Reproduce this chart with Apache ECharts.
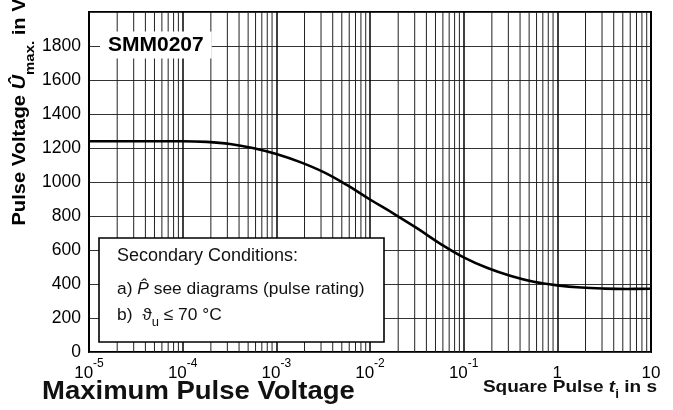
<!DOCTYPE html>
<html>
<head>
<meta charset="utf-8">
<script src="https://cdn.jsdelivr.net/npm/echarts@6/dist/echarts.min.js"></script>
<style>
  html, body { margin: 0; padding: 0; background: #fff; }
  #chart { width: 673px; height: 410px; }
</style>
</head>
<body>
<div id="chart"></div>
<script>
// pulse duration (s) and max pulse voltage (V) (about 4 readings per decade)
const pulseTimes = [
  1e-5, 1.8e-5, 3.2e-5, 5.6e-5,
  1e-4, 1.8e-4, 3.2e-4, 5.6e-4,
  1e-3, 1.8e-3, 3.2e-3, 5.6e-3,
  1e-2, 1.8e-2, 3.2e-2, 5.6e-2,
  1e-1, 1.8e-1, 3.2e-1, 5.6e-1,
  1, 1.8, 3.2, 5.6, 10,
];
const pulseVoltage = [
  1240, 1240, 1240, 1240,
  1240, 1236, 1224, 1200,
  1165, 1117, 1058, 984,
  897, 813, 727, 638,
  557, 494, 447, 413,
  392, 379, 373, 371, 372,
];
const decades = [1e-5, 1e-4, 1e-3, 1e-2, 1e-1, 1];
const minorSteps = [2, 3, 4, 5, 6, 7, 8, 9];

const FONT = "'Liberation Sans', Arial, Helvetica, sans-serif";

// minor log grid lines 2..9 in each decade
var minorLines = [];
decades.forEach(function (d) {
  minorSteps.forEach(function (k) {
    minorLines.push([k * d, 0]);
  });
});

var chart = echarts.init(document.getElementById("chart"));
var option = {
  animation: false,
  grid: {
    left: 89,
    right: 22,
    top: 12,
    bottom: 58,
    show: true,
    borderColor: "#000",
    borderWidth: 2,
    backgroundColor: "#fff",
  },
  xAxis: {
    type: "log",
    logBase: 10,
    min: 1e-5,
    max: 10,
    axisLine: { show: false },
    axisTick: { show: false },
    splitLine: { show: true, lineStyle: { color: "#000", width: 1.5 } },
    axisLabel: {
      showMinLabel: true,
      showMaxLabel: true,
      hideOverlap: false,
      margin: 6,
      color: "#000",
      formatter: function (v) {
        var e = Math.round(Math.log10(v));
        if (e === 0) return "{b|1}";
        if (e === 1) return "{b|10}";
        return "{b|10}{s|" + e + "}";
      },
      rich: {
        b: { fontFamily: FONT, fontSize: 17, lineHeight: 24, verticalAlign: "bottom", color: "#000" },
        s: { fontFamily: FONT, fontSize: 12, lineHeight: 12, verticalAlign: "top", color: "#000" },
      },
    },
  },
  yAxis: {
    type: "value",
    min: 0,
    max: 2000,
    interval: 200,
    axisLine: { show: false },
    axisTick: { show: false },
    splitLine: { show: true, lineStyle: { color: "#333", width: 1.2 } },
    axisLabel: {
      margin: 8,
      color: "#000",
      fontFamily: FONT,
      fontSize: 17.5,
      formatter: function (v) {
        return v === 2000 ? "" : v;
      },
    },
  },
  series: [
    {
      // minor vertical grid lines of the log axis
      type: "custom",
      z: 1,
      silent: true,
      data: minorLines,
      renderItem: function (params, api) {
        var v = api.value(0);
        var p1 = api.coord([v, 0]);
        var p2 = api.coord([v, 2000]);
        return {
          type: "line",
          shape: { x1: p1[0], y1: p1[1], x2: p2[0], y2: p2[1] },
          style: { stroke: "#222", lineWidth: 1 },
        };
      },
    },
    {
      type: "line",
      z: 5,
      smooth: 0.4,
      showSymbol: false,
      lineStyle: { color: "#000", width: 2.6 },
      data: pulseTimes.map(function (t, i) {
        return [t, pulseVoltage[i]];
      }),
    },
  ],
  graphic: [
    {
      type: "text",
      z: 20,
      x: 24,
      y: 112,
      rotation: Math.PI / 2,
      scaleX: 1.15,
      style: {
        text: "{a|Pulse Voltage }{u|Û}{m|max.}{a| in V}",
        align: "center",
        verticalAlign: "middle",
        rich: {
          a: { fontFamily: FONT, fontWeight: "bold", fontSize: 17.5, lineHeight: 25, verticalAlign: "top", fill: "#000" },
          u: { fontFamily: FONT, fontWeight: "bold", fontStyle: "italic", fontSize: 17.5, lineHeight: 25, verticalAlign: "top", fill: "#000" },
          m: { fontFamily: FONT, fontWeight: "bold", fontSize: 13, lineHeight: 13, verticalAlign: "bottom", fill: "#000" },
        },
      },
    },
    {
      type: "text",
      z: 20,
      x: 100,
      y: 45,
      style: {
        text: "SMM0207",
        font: "bold 21px " + FONT,
        fill: "#000",
        verticalAlign: "middle",
        backgroundColor: "#fff",
        padding: [3, 8, 3, 8],
      },
    },
    {
      type: "rect",
      z: 20,
      shape: { x: 99, y: 238, width: 285, height: 104 },
      style: { fill: "#fff", stroke: "#000", lineWidth: 1.6 },
    },
    {
      type: "text",
      z: 21,
      x: 117,
      y: 256,
      style: { text: "Secondary Conditions:", font: "18px " + FONT, fill: "#111", verticalAlign: "middle" },
    },
    {
      type: "text",
      z: 21,
      x: 117,
      y: 289,
      style: {
        text: "{a|a) }{p|P\u0302}{a| see diagrams (pulse rating)}",
        verticalAlign: "middle",
        rich: {
          a: { fontFamily: FONT, fontSize: 17.4, fill: "#111" },
          p: { fontFamily: FONT, fontSize: 17.4, fontStyle: "italic", fill: "#111" },
        },
      },
    },
    {
      type: "text",
      z: 21,
      x: 117,
      y: 318,
      style: {
        text: "{a|b)  }{t|\u03D1}{s|u}{a| \u2264 70 °C}",
        verticalAlign: "middle",
        rich: {
          a: { fontFamily: FONT, fontSize: 17.4, lineHeight: 22, verticalAlign: "top", fill: "#111" },
          t: { fontFamily: FONT, fontSize: 17.4, lineHeight: 22, verticalAlign: "top", fill: "#111" },
          s: { fontFamily: FONT, fontSize: 13, lineHeight: 13, verticalAlign: "bottom", fill: "#111" },
        },
      },
    },
    {
      type: "text",
      z: 20,
      x: 42,
      y: 392,
      scaleX: 1.1,
      style: { text: "Maximum Pulse Voltage", font: "bold 25px " + FONT, fill: "#111", verticalAlign: "middle" },
    },
    {
      type: "text",
      z: 20,
      x: 657,
      y: 390,
      scaleX: 1.12,
      style: {
        text: "{a|Square Pulse }{t|t}{i|i}{a| in s}",
        align: "right",
        verticalAlign: "middle",
        rich: {
          a: { fontFamily: FONT, fontWeight: "bold", fontSize: 17, lineHeight: 22, verticalAlign: "top", fill: "#111" },
          t: { fontFamily: FONT, fontWeight: "bold", fontStyle: "italic", fontSize: 17, lineHeight: 22, verticalAlign: "top", fill: "#111" },
          i: { fontFamily: FONT, fontWeight: "bold", fontSize: 12, lineHeight: 12, verticalAlign: "bottom", fill: "#111" },
        },
      },
    },
  ],
};
chart.setOption(option);
</script>
</body>
</html>
